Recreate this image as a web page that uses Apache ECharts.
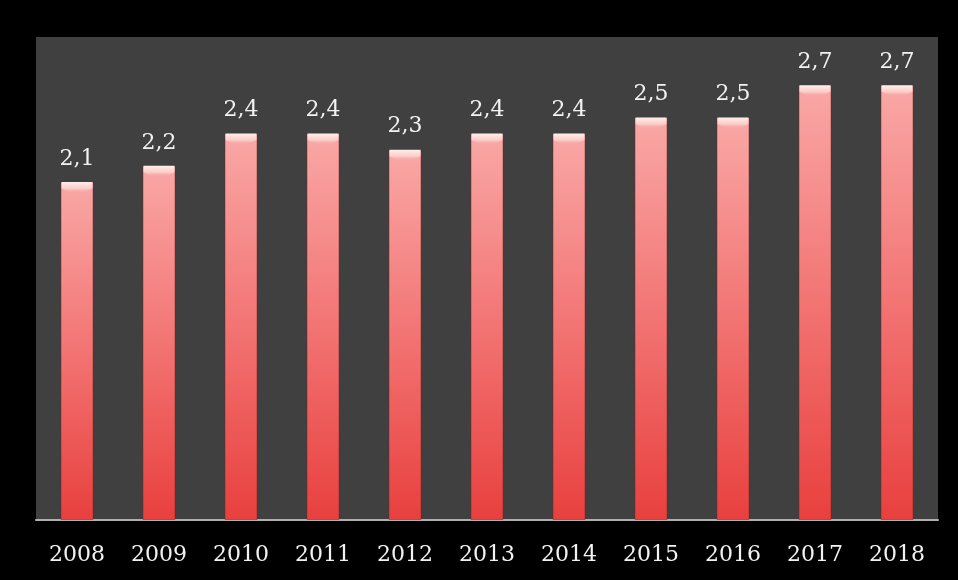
<!DOCTYPE html>
<html>
<head>
<meta charset="utf-8">
<script src="https://cdn.jsdelivr.net/npm/echarts@6/dist/echarts.min.js"></script>
<style>
  html, body { margin: 0; padding: 0; background: #000; }
  #chart { width: 958px; height: 580px; }
</style>
</head>
<body>
<div id="chart"></div>
<script>
var years = ['2008', '2009', '2010', '2011', '2012', '2013', '2014', '2015', '2016', '2017', '2018'];
var values = [2.1, 2.2, 2.4, 2.4, 2.3, 2.4, 2.4, 2.5, 2.5, 2.7, 2.7];

var chart = echarts.init(document.getElementById('chart'));

// bar body: pink at top fading to red at the bottom
var barColor = new echarts.graphic.LinearGradient(0, 0, 0, 1, [
    { offset: 0, color: '#f9a8a6' },
    { offset: 0.5, color: '#f27473' },
    { offset: 1, color: '#e8403e' }
]);

chart.setOption({
    backgroundColor: '#000',
    animation: false,
    grid: {
        left: 36,
        right: 20,
        top: 37,
        bottom: 60,
        show: true,
        backgroundColor: '#404040',
        borderWidth: 0
    },
    xAxis: {
        type: 'category',
        data: years,
        axisLine: { lineStyle: { color: '#b0b0b0', width: 2 } },
        axisTick: { show: false },
        axisLabel: {
            color: '#f2f2f2',
            fontFamily: 'DejaVu Serif',
            fontSize: 22,
            margin: 24
        }
    },
    yAxis: {
        type: 'value',
        min: 0,
        max: 3,
        show: false
    },
    series: [
        {
            name: 'body',
            type: 'bar',
            data: values,
            barWidth: 33,
            itemStyle: {
                color: barColor,
                borderColor: 'rgba(120,30,30,0.45)',
                borderWidth: 1
            },
            label: {
                show: true,
                position: 'top',
                distance: 12,
                color: '#f2f2f2',
                fontFamily: 'DejaVu Serif',
                fontSize: 22,
                formatter: function (p) {
                    return p.value.toFixed(1).replace('.', ',');
                }
            },
            z: 2
        },
        {
            // light bevel on the top of each bar
            name: 'cap',
            type: 'pictorialBar',
            data: values,
            symbol: 'path://M0,0 L20,0 L20,5 Q10,12 0,5 Z',
            symbolSize: [31, 11],
            symbolPosition: 'end',
            symbolOffset: [0, 0],
            itemStyle: {
                color: new echarts.graphic.LinearGradient(0, 0, 0, 1, [
                    { offset: 0, color: '#fff1ec' },
                    { offset: 0.6, color: 'rgba(253,214,208,0.8)' },
                    { offset: 1, color: 'rgba(249,168,166,0)' }
                ])
            },
            silent: true,
            z: 3
        }
    ]
});
</script>
</body>
</html>
